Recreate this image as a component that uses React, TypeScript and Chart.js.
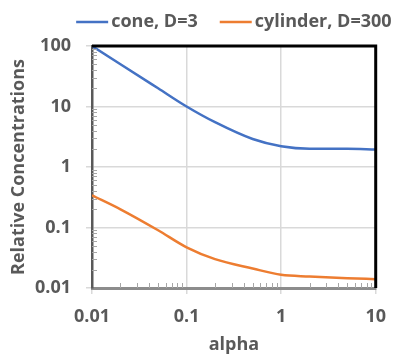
import { useEffect, useRef } from "react";
import { Chart, registerables } from "chart.js";

Chart.register(...registerables);

const alpha = [0.01, 0.02, 0.05, 0.1, 0.2, 0.5, 1, 2, 5, 10];
const coneD3 = [100, 50, 20, 10, 5.5, 2.9, 2.2, 2.0, 2.0, 1.95];
const cylinderD300 = [0.34, 0.2, 0.09, 0.047, 0.03, 0.021, 0.0165, 0.0155, 0.0145, 0.014];
const xTicks = [0.01, 0.1, 1, 10];
const yTicks = [0.01, 0.1, 1, 10, 100];
const seriesLabels = ["cone, D=3", "cylinder, D=300"];
const seriesColors = ["#4472C4", "#ED7D31"];

const FONT = "'Open Sans', Lato, sans-serif";
const TEXT = "#595959";
const SIZE = 18;

const decorPlugin = {
  id: "decor",
  afterDatasetsDraw(chart: any) {
    const { ctx, chartArea: a, scales } = chart;
    const x = scales.x;
    const y = scales.y;
    ctx.save();
    ctx.strokeStyle = "#a6a6a6";
    ctx.lineWidth = 1;
    for (let d = 0; d < xTicks.length - 1; d++) {
      for (let m = 2; m <= 9; m++) {
        const px = Math.round(x.getPixelForValue(xTicks[d] * m)) + 0.5;
        ctx.beginPath();
        ctx.moveTo(px, a.bottom);
        ctx.lineTo(px, a.bottom - 5);
        ctx.stroke();
      }
    }
    for (let d = 0; d < yTicks.length - 1; d++) {
      for (let m = 2; m <= 9; m++) {
        const py = Math.round(y.getPixelForValue(yTicks[d] * m)) + 0.5;
        ctx.beginPath();
        ctx.moveTo(a.left, py);
        ctx.lineTo(a.left + 5, py);
        ctx.stroke();
      }
    }
    ctx.strokeStyle = "#000";
    ctx.lineWidth = 3;
    ctx.beginPath();
    ctx.moveTo(a.left, a.top);
    ctx.lineTo(a.right, a.top);
    ctx.lineTo(a.right, a.bottom);
    ctx.stroke();
    ctx.restore();
  },
  afterDraw(chart: any) {
    const { ctx, chartArea: a } = chart;
    ctx.save();
    ctx.font = `bold ${SIZE}px ${FONT}`;
    const lineW = 32;
    const gap = 3;
    const sep = 22;
    const w1 = ctx.measureText(seriesLabels[0]).width;
    const w2 = ctx.measureText(seriesLabels[1]).width;
    const total = lineW + gap + w1 + sep + lineW + gap + w2;
    let x0 = (a.left + a.right) / 2 - total / 2;
    const yc = 22;
    ctx.textBaseline = "middle";
    ctx.textAlign = "left";
    [w1, w2].forEach((w, i) => {
      ctx.strokeStyle = seriesColors[i];
      ctx.lineWidth = 2.5;
      ctx.beginPath();
      ctx.moveTo(x0, yc);
      ctx.lineTo(x0 + lineW, yc);
      ctx.stroke();
      ctx.fillStyle = TEXT;
      ctx.fillText(seriesLabels[i], x0 + lineW + gap, yc);
      x0 += lineW + gap + w + sep;
    });
    ctx.restore();
  },
};

export default function App() {
  const ref = useRef<HTMLCanvasElement>(null);
  useEffect(() => {
    if (!ref.current) return;
    const font = { family: FONT, size: SIZE, weight: "bold" as const };
    const chart = new Chart(ref.current, {
      type: "line",
      data: {
        datasets: [
          {
            label: seriesLabels[0],
            data: alpha.map((a, i) => ({ x: a, y: coneD3[i] })),
            borderColor: seriesColors[0],
            backgroundColor: seriesColors[0],
            borderWidth: 2.5,
            pointRadius: 0,
            cubicInterpolationMode: "monotone",
          },
          {
            label: seriesLabels[1],
            data: alpha.map((a, i) => ({ x: a, y: cylinderD300[i] })),
            borderColor: seriesColors[1],
            backgroundColor: seriesColors[1],
            borderWidth: 2.5,
            pointRadius: 0,
            cubicInterpolationMode: "monotone",
          },
        ],
      },
      options: {
        animation: false,
        responsive: false,
        layout: { padding: { top: 46, right: 21, left: 0, bottom: 0 } },
        plugins: { legend: { display: false }, tooltip: { enabled: false } },
        scales: {
          x: {
            type: "logarithmic",
            position: "bottom",
            min: 0.01,
            max: 10,
            afterBuildTicks: (s: any) => {
              s.ticks = xTicks.map((v) => ({ value: v }));
            },
            afterFit: (s: any) => {
              s.height = 68;
            },
            ticks: {
              autoSkip: false,
              maxRotation: 0,
              font,
              color: TEXT,
              padding: 12,
              callback: (v: any) => String(v),
            },
            grid: { color: "#d9d9d9", lineWidth: 1.5, tickLength: 6 },
            border: { color: "#8c8c8c", width: 3 },
            title: { display: true, text: "alpha", font, color: TEXT, padding: { top: 0, bottom: 0 } },
          },
          y: {
            type: "logarithmic",
            position: "left",
            min: 0.01,
            max: 100,
            afterBuildTicks: (s: any) => {
              s.ticks = yTicks.map((v) => ({ value: v }));
            },
            afterFit: (s: any) => {
              s.width = 92;
            },
            ticks: {
              autoSkip: false,
              font,
              color: TEXT,
              padding: 15,
              callback: (v: any) => String(v),
            },
            grid: { color: "#d9d9d9", lineWidth: 1.5, tickLength: 6 },
            border: { color: "#595959", width: 2.5 },
            title: {
              display: true,
              text: "Relative Concentrations",
              font,
              color: TEXT,
              padding: { top: 8, bottom: 0 },
            },
          },
        },
      },
      plugins: [decorPlugin],
    } as any);
    return () => chart.destroy();
  }, []);
  return (
    <div style={{ position: "fixed", left: 0, top: 0, width: 398, height: 356, background: "#fff" }}>
      <canvas ref={ref} width={398} height={356} style={{ display: "block" }} />
    </div>
  );
}
